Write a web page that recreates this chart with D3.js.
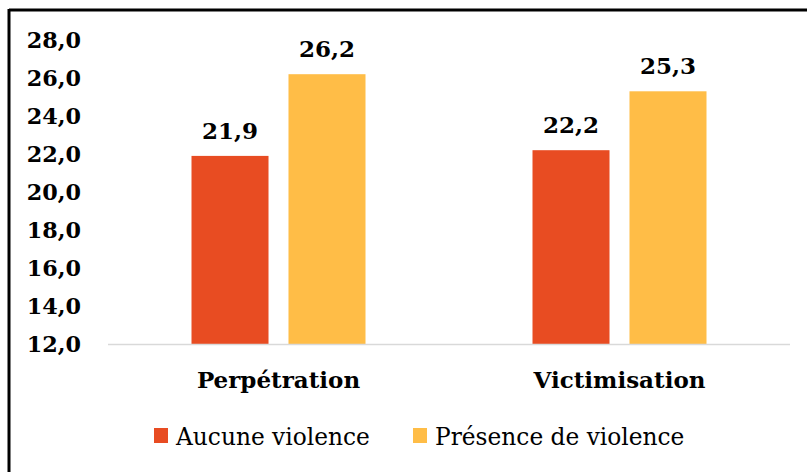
<!DOCTYPE html>
<html>
<head>
<meta charset="utf-8">
<script src="https://cdn.jsdelivr.net/npm/d3@7"></script>
<style>
  body { margin: 0; background: #fff; }
  text { font-family: "DejaVu Serif", serif; fill: #000; }
</style>
</head>
<body>
<div id="chart"></div>
<script>
const categories = ["Perpétration", "Victimisation"];
const seriesNames = ["Aucune violence", "Présence de violence"];
const aucune = [21.9, 22.2];
const presence = [26.2, 25.3];
const yTicks = [12, 14, 16, 18, 20, 22, 24, 26, 28];
const colors = ["#E84C22", "#FFBD47"];

const width = 807, height = 472;
const fmt = v => d3.format(".1f")(v).replace(".", ",");

const svg = d3.select("#chart").append("svg")
    .attr("width", width)
    .attr("height", height);

// frame (only top and left edges visible)
svg.append("line").attr("x1", 9).attr("x2", width).attr("y1", 10).attr("y2", 10)
    .attr("stroke", "#000").attr("stroke-width", 3);
svg.append("line").attr("x1", 9).attr("x2", 9).attr("y1", 9).attr("y2", height)
    .attr("stroke", "#000").attr("stroke-width", 3);

const y = d3.scaleLinear().domain([12, 28]).range([344, 40]);
const x0 = d3.scaleBand().domain(categories).range([108, 790]);
const groupW = 174;
const x1 = d3.scaleBand().domain(seriesNames)
    .range([(x0.bandwidth() - groupW) / 2, (x0.bandwidth() + groupW) / 2])
    .paddingInner(0.206);

const data = categories.map((c, i) => ({
    cat: c,
    vals: [
        { s: seriesNames[0], v: aucune[i], c: colors[0] },
        { s: seriesNames[1], v: presence[i], c: colors[1] }
    ]
}));

// y tick labels
svg.append("g").selectAll("text")
    .data(yTicks)
    .join("text")
    .attr("x", 81)
    .attr("y", d => y(d))
    .attr("dy", "0.36em")
    .attr("text-anchor", "end")
    .attr("font-size", 22.3)
    .attr("font-weight", "bold")
    .text(d => fmt(d));

// bars
const groups = svg.append("g").selectAll("g")
    .data(data)
    .join("g")
    .attr("transform", d => `translate(${x0(d.cat)},0)`);

groups.selectAll("rect")
    .data(d => d.vals)
    .join("rect")
    .attr("x", d => x1(d.s))
    .attr("width", x1.bandwidth())
    .attr("y", d => y(d.v))
    .attr("height", d => y(12) - y(d.v))
    .attr("fill", d => d.c);

groups.selectAll("text.val")
    .data(d => d.vals)
    .join("text")
    .attr("class", "val")
    .attr("x", d => x1(d.s) + x1.bandwidth() / 2)
    .attr("y", d => y(d.v) - 17)
    .attr("text-anchor", "middle")
    .attr("font-size", 23)
    .attr("font-weight", "bold")
    .text(d => fmt(d.v));

// x axis line
svg.append("line")
    .attr("x1", 108).attr("x2", 790)
    .attr("y1", y(12) + 0.5).attr("y2", y(12) + 0.5)
    .attr("stroke", "#D9D9D9").attr("stroke-width", 1.5);

// category labels
svg.append("g").selectAll("text")
    .data(categories)
    .join("text")
    .attr("x", d => x0(d) + x0.bandwidth() / 2)
    .attr("y", 388)
    .attr("text-anchor", "middle")
    .attr("font-size", 23)
    .attr("font-weight", "bold")
    .text(d => d);

// legend
const legendX = [154, 413];
const legend = svg.append("g").selectAll("g")
    .data(seriesNames)
    .join("g")
    .attr("transform", (d, i) => `translate(${legendX[i]},428)`);
legend.append("rect")
    .attr("width", 14).attr("height", 15)
    .attr("fill", (d, i) => colors[i]);
legend.append("text")
    .attr("x", 22)
    .attr("y", 17)
    .attr("font-size", 23.3)
    .text(d => d);
</script>
</body>
</html>
